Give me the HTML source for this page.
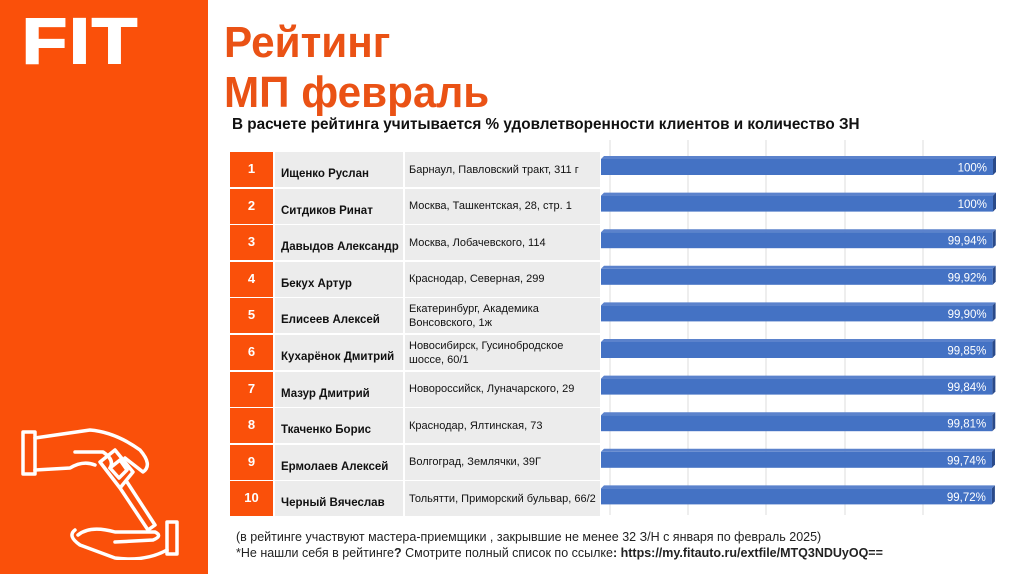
<!DOCTYPE html>
<html><head><meta charset="utf-8"><style>
body{margin:0;width:1024px;height:574px;overflow:hidden;background:#fff;font-family:"Liberation Sans","Noto Sans CJK SC",sans-serif;position:relative}
.side{position:absolute;left:0;top:0;width:208px;height:574px;background:#fa500a}
.logo{position:absolute;left:22px;top:4px;color:#fff;font-weight:900;font-size:64px;letter-spacing:2px;transform:scaleX(1.15);transform-origin:left;-webkit-text-stroke:2px #fff}
.t1{position:absolute;left:224px;color:#ea5215;font-weight:bold;font-size:44px;transform:scaleX(.96);transform-origin:left}
.sub{position:absolute;left:232px;top:116px;font-weight:bold;font-size:15.3px;color:#111}
.row{position:absolute;left:230px;height:35px;font-size:11px;color:#111}
.rk{position:absolute;left:0;top:0;width:43px;height:35px;background:#fa500a;color:#fff;font-weight:bold;font-size:13px;text-align:center;line-height:34px}
.nm{position:absolute;left:45px;top:0;width:128px;height:35px;background:#ececec;font-weight:bold;font-size:11.5px;padding-left:6px;box-sizing:border-box;line-height:44px}
.ad{position:absolute;left:175px;top:0;width:195px;height:35px;background:#ececec;padding:6px 4px;box-sizing:border-box;display:flex;align-items:center;line-height:14px}
.foot{position:absolute;left:236px;font-size:12.5px;color:#222}
</style></head><body>
<div class="side">
<div class="logo">FIT</div>
<svg style="position:absolute;left:15px;top:420px" width="170" height="140" viewBox="0 0 170 140" fill="none" stroke="#fff" stroke-width="3.5" stroke-linejoin="round" stroke-linecap="round">
<rect x="8" y="12" width="12" height="42"/>
<path d="M20 18 L75 10 Q100 12 125 30 Q138 45 128 52 L110 38 M60 32 L88 32 Q100 40 95 48 M20 50 L55 48 Q68 40 80 45"/>
<path d="M85 42 L100 30 L118 52 L105 68 Z M95 48 L105 40 L112 50 L104 58 Z M112 62 L140 105 L133 110 L105 68"/>
<path d="M63 115 Q75 105 100 112 L140 112 Q148 116 138 120 L100 122 M60 110 Q52 116 65 125 L100 138 Q130 142 152 130"/>
<rect x="152" y="102" width="10" height="32"/>
</svg>
</div>
<div class="t1" style="top:18px">Рейтинг</div>
<div class="t1" style="top:68px">МП февраль</div>
<div class="sub">В расчете рейтинга учитывается % удовлетворенности клиентов и количество ЗН</div>
<div id="rows"></div>
<svg id="chart" style="position:absolute;left:0;top:0" width="1024" height="574"></svg>
<div class="foot" style="top:530px">(в рейтинге участвуют мастера-приемщики , закрывшие не менее 32 З/Н с января по февраль 2025)</div>
<div class="foot" style="top:546px">*Не нашли себя в рейтинге<b>?</b> Смотрите полный список по ссылке<b>: https://my.fitauto.ru/extfile/MTQ3NDUyOQ==</b></div>
<script>
const names=["Ищенко Руслан","Ситдиков Ринат","Давыдов Александр","Бекух Артур","Елисеев Алексей","Кухарёнок Дмитрий","Мазур Дмитрий","Ткаченко Борис","Ермолаев Алексей","Черный Вячеслав"];
const addrs=["Барнаул, Павловский тракт, 311 г","Москва, Ташкентская, 28, стр. 1","Москва, Лобачевского, 114","Краснодар, Северная, 299","Екатеринбург, Академика Вонсовского, 1ж","Новосибирск, Гусинобродское шоссе, 60/1","Новороссийск, Луначарского, 29","Краснодар, Ялтинская, 73","Волгоград, Землячки, 39Г","Тольятти, Приморский бульвар, 66/2"];
const values=[100,100,99.94,99.92,99.90,99.85,99.84,99.81,99.74,99.72];
const labels=["100%","100%","99,94%","99,92%","99,90%","99,85%","99,84%","99,81%","99,74%","99,72%"];
const y0=152,rh=36.6,x0=601,W=392;
const xs=v=>x0+v/100*W, ys=i=>y0+i*rh;
const rows=document.getElementById('rows');
names.forEach((n,i)=>{
 const r=document.createElement('div');r.className='row';r.style.top=ys(i)+'px';
 
 
 r.innerHTML='<div class="rk">'+(i+1)+'</div><div class="nm">'+n+'</div><div class="ad">'+addrs[i]+'</div>';
 rows.appendChild(r);
});
const svg=document.getElementById('chart'),NS='http://www.w3.org/2000/svg';
[610,688,766,845,923].forEach(x=>{const l=document.createElementNS(NS,'line');l.setAttribute('x1',x);l.setAttribute('x2',x);l.setAttribute('y1',140);l.setAttribute('y2',515);l.setAttribute('stroke','#dcdcdc');

svg.appendChild(l);});
values.forEach((v,i)=>{
 const y=ys(i)+4,x2=xs(v);
 const g=document.createElementNS(NS,'g');
 
 
 g.innerHTML='<path d="M'+x0+' '+(y+3)+' L'+(x0+3)+' '+y+' L'+(x2+3)+' '+y+' L'+x2+' '+(y+3)+'Z" fill="#5b82cc"/><path d="M'+x2+' '+(y+3)+' L'+(x2+3)+' '+y+' L'+(x2+3)+' '+(y+16)+' L'+x2+' '+(y+19)+'Z" fill="#2a4a8a"/><rect x="'+x0+'" y="'+(y+3)+'" width="'+(x2-x0)+'" height="16" fill="#4472c4"/><text x="'+(x2-6)+'" y="'+(y+15.5)+'" text-anchor="end" fill="#fff" font-size="11.5" font-family="Liberation Sans">'+labels[i]+'</text>';
 svg.appendChild(g);
});
</script>
</body></html>
